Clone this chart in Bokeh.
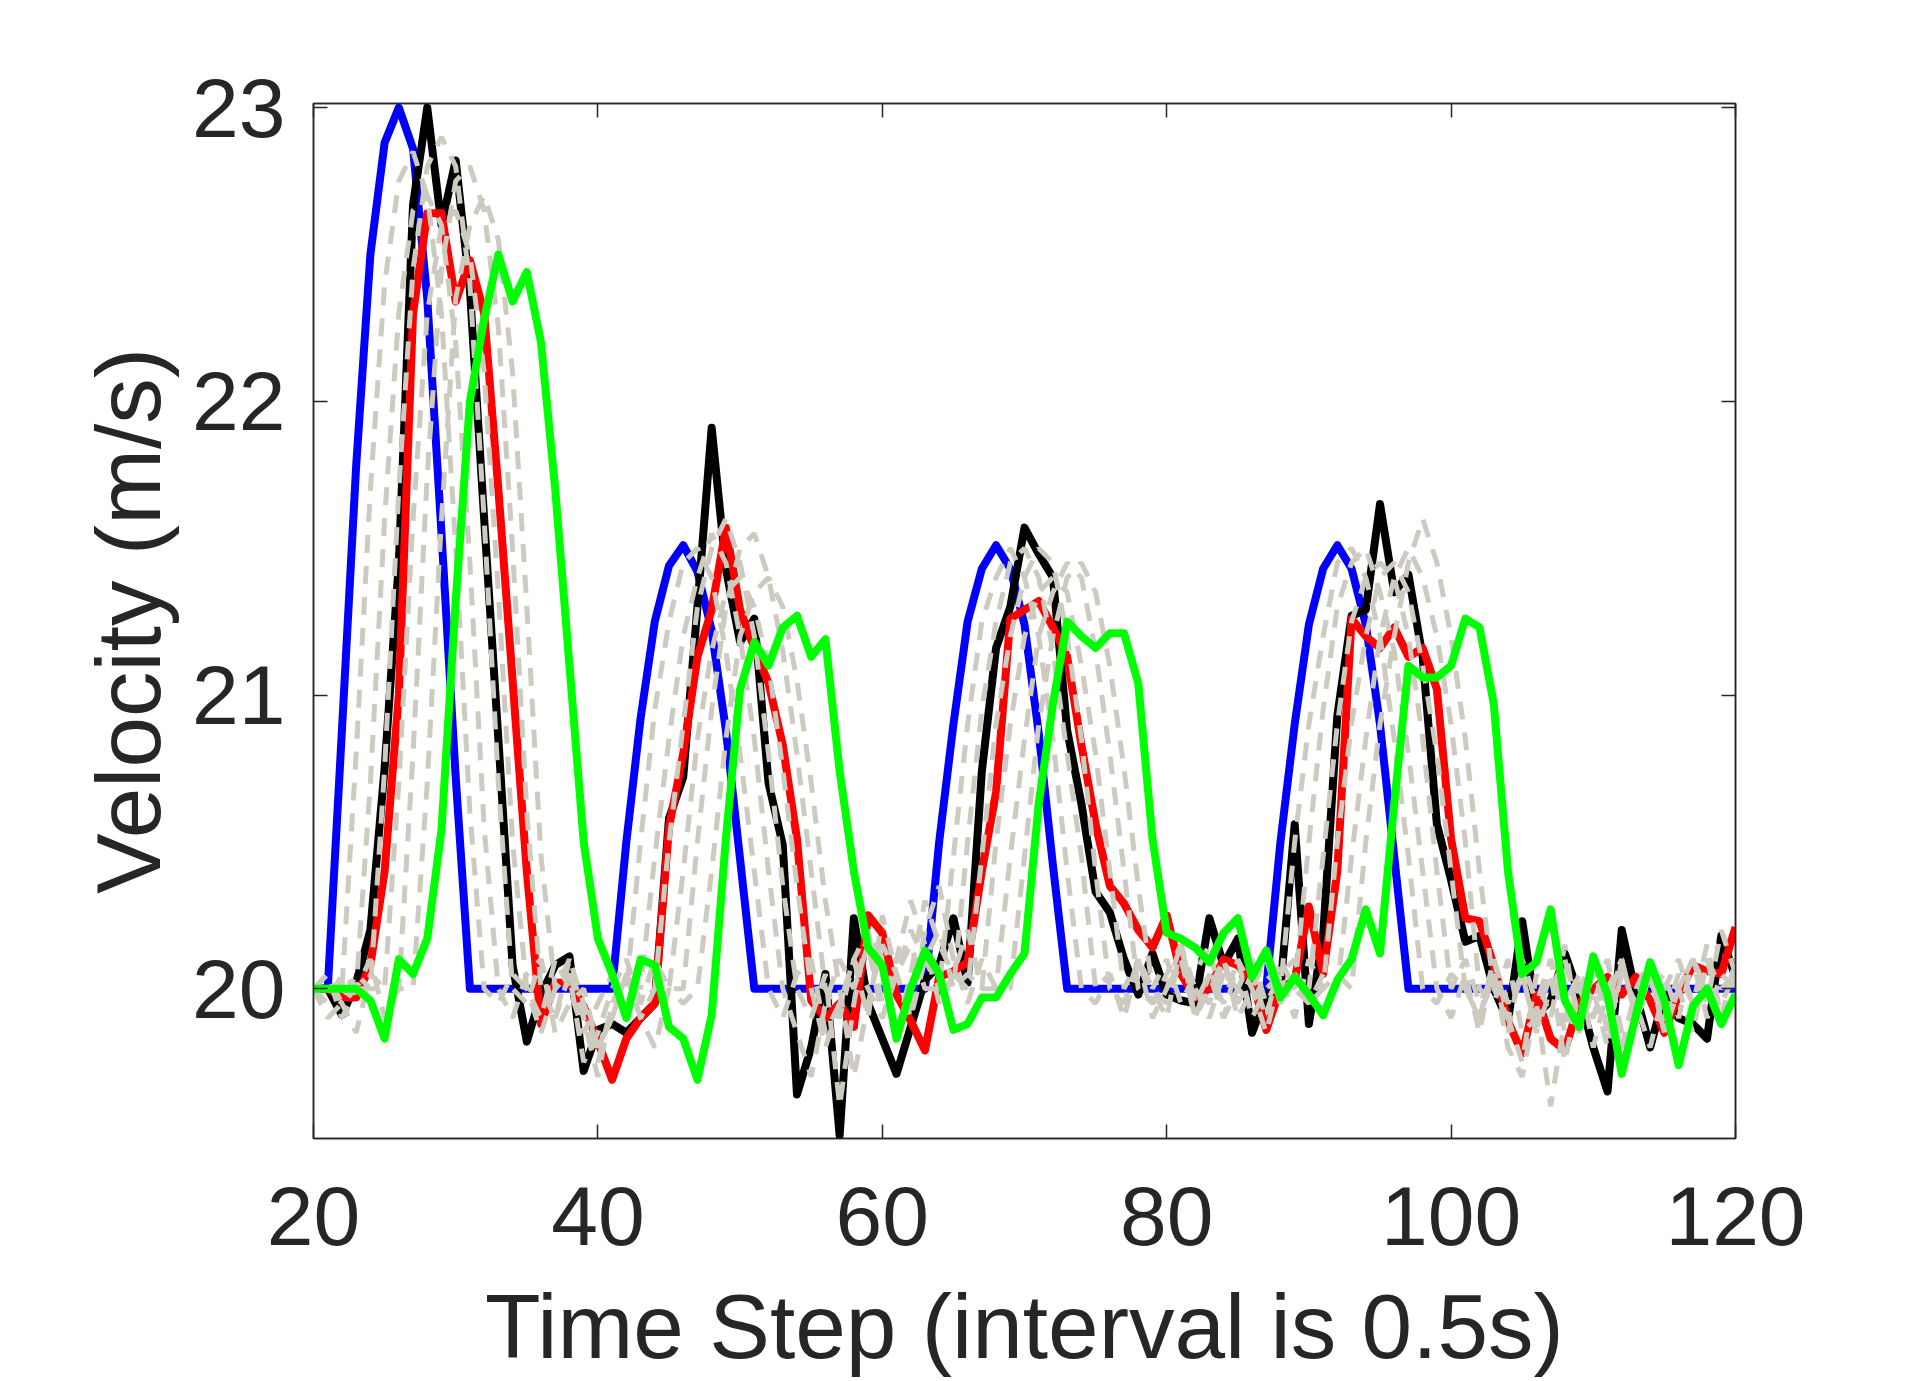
from bokeh.plotting import figure
from bokeh.models import LinearAxis, FixedTicker, Range1d
from bokeh.embed import file_html
from bokeh.resources import INLINE

# ---------------- data ----------------
time_step = list(range(20, 121))

blue = [20.0, 20.0, 20.88, 21.78, 22.5, 22.88, 23.0, 22.86, 22.35, 21.55, 20.72, 20.0,
        20.0, 20.0, 20.0, 20.0, 20.0, 20.0, 20.0, 20.0, 20.0,
        20.0, 20.5, 20.92, 21.25, 21.44, 21.51, 21.42, 21.22, 20.88, 20.44, 20.0,
        20.0, 20.0, 20.0, 20.0, 20.0, 20.0, 20.0, 20.0, 20.0, 20.0, 20.0,
        20.0, 20.5, 20.9, 21.25, 21.43, 21.51, 21.43, 21.24, 20.87, 20.42, 20.0,
        20.0, 20.0, 20.0, 20.0, 20.0, 20.0, 20.0, 20.0, 20.0, 20.0, 20.0, 20.0, 20.0,
        20.0, 20.5, 20.9, 21.24, 21.43, 21.51, 21.43, 21.24, 20.9, 20.45, 20.0,
        20.0, 20.0, 20.0, 20.0, 20.0, 20.0, 20.0, 20.0, 20.0, 20.0, 20.0, 20.0,
        20.0, 20.0, 20.0, 20.0, 20.0, 20.0, 20.0, 20.0, 20.0, 20.0, 20.0]

black = [20.0, 20.0, 19.91, 20.02, 20.2, 20.75, 21.45, 22.67, 23.0, 22.6,
         22.82, 22.38, 21.6, 20.85, 20.08, 19.82, 19.98, 20.08, 20.11, 19.72,
         19.86, 19.88, 19.85, 19.9, 19.95, 20.58, 20.72, 21.3, 21.91, 21.43,
         21.18, 21.26, 20.7, 20.49, 19.64, 19.8, 20.05, 19.5, 20.24, 19.95,
         19.83, 19.71, 19.87, 20.03, 20.08, 20.24, 20.02, 20.74, 21.16, 21.3,
         21.57, 21.48, 21.4, 20.88, 20.63, 20.33, 20.26, 20.1, 19.98, 20.12,
         19.98, 19.96, 19.95, 20.24, 20.08, 20.17, 19.85, 19.98, 20.0, 20.56,
         19.88, 20.18, 20.93, 21.27, 21.29, 21.65, 21.35, 21.41, 21.13, 20.56,
         20.37, 20.16, 20.18, 20.0, 19.89, 20.23, 19.91, 19.96, 20.12, 19.98,
         19.8, 19.65, 20.2, 19.98, 19.8, 19.98, 19.9, 19.88, 19.83, 20.18,
         20.04]

red = [20.0, 20.0, 19.97, 19.97, 20.08, 20.4, 21.0, 22.3, 22.64, 22.64,
       22.34, 22.48, 22.3, 21.7, 21.05, 20.4, 19.88, 20.02, 20.02, 19.94,
       19.82, 19.69, 19.83, 19.9, 19.95, 20.55, 20.8, 21.13, 21.29, 21.57,
       21.29, 21.16, 21.04, 20.83, 20.51, 19.96, 19.9, 19.95, 19.87, 20.25,
       20.19, 19.98, 19.89, 19.79, 20.04, 20.06, 20.09, 20.4, 20.67, 21.26,
       21.29, 21.32, 21.23, 21.13, 20.83, 20.56, 20.35, 20.29, 20.2, 20.14,
       20.25, 20.05, 19.97, 20.0, 20.1, 20.08, 20.03, 19.86, 20.0, 20.03,
       20.28, 20.05, 20.4, 21.26, 21.2, 21.16, 21.23, 21.13, 21.16, 21.02,
       20.51, 20.24, 20.23, 20.08, 19.89, 19.78, 19.98, 19.83, 19.79, 19.95,
       20.0, 20.04, 19.98, 20.04, 19.96, 19.85, 19.98, 20.08, 20.06, 20.05,
       20.21]

green = [20.0, 20.0, 20.0, 20.0, 19.96, 19.83, 20.1, 20.05, 20.17, 20.54,
         21.32, 22.0, 22.28, 22.5, 22.34, 22.44, 22.2, 21.7, 21.1, 20.5,
         20.17, 20.05, 19.9, 20.1, 20.08, 19.87, 19.83, 19.69, 19.91, 20.51,
         21.02, 21.18, 21.1, 21.23, 21.27, 21.13, 21.19, 20.74, 20.4, 20.14,
         20.08, 19.83, 20.0, 20.13, 20.05, 19.86, 19.88, 19.97, 19.97, 20.05,
         20.12, 20.63, 20.97, 21.25, 21.2, 21.16, 21.21, 21.21, 21.04, 20.51,
         20.19, 20.17, 20.14, 20.09, 20.19, 20.24, 20.04, 20.13, 19.97, 20.04,
         19.98, 19.91, 20.03, 20.1, 20.27, 20.12, 20.63, 21.1, 21.06, 21.06,
         21.1, 21.26, 21.23, 20.97, 20.4, 20.05, 20.09, 20.27, 19.96, 19.87,
         20.11, 19.98, 19.71, 19.91, 20.09, 19.96, 19.74, 19.94, 20.0, 19.88,
         19.98]

gray_1 = [20.0, 20.0,
          20.0, 20.8, 21.7, 22.4, 22.75, 22.85, 22.7, 22.3, 21.5, 20.6, 20.0,
          19.95, 20.05, 20.0, 19.9, 20.1, 20.0, 19.85, 19.95, 20.05,
          20.0, 20.5, 20.95, 21.25, 21.45, 21.5, 21.4, 21.15, 20.8, 20.4, 20.0,
          19.9, 20.05, 20.1, 19.85, 19.95, 20.1, 20.0, 19.9, 20.05, 20.15, 20.0,
          20.0, 20.45, 20.9, 21.25, 21.4, 21.5, 21.4, 21.2, 20.85, 20.4, 20.0,
          19.95, 20.05, 19.9, 20.1, 20.0, 19.95, 20.1, 20.0, 19.9, 20.05, 20.0, 19.95, 20.05,
          20.0, 20.5, 20.9, 21.2, 21.45, 21.5, 21.4, 21.2, 20.85, 20.45, 20.0,
          19.95, 20.05, 20.0, 19.9, 20.1, 19.95, 20.05, 19.85, 20.0, 20.1, 19.9,
          20.05, 19.95, 20.1, 19.9, 20.0, 20.05, 19.9, 20.1, 20.0, 19.95, 20.05]

gray_2 = [20.0, 19.95, 20.05,
          20.0, 20.7, 21.6, 22.3, 22.65, 22.7, 22.6, 22.2, 21.45, 20.55, 20.0,
          19.9, 20.05, 20.1, 19.85, 19.95, 20.0, 19.8, 19.9, 20.05,
          20.0, 20.45, 20.85, 21.2, 21.4, 21.55, 21.45, 21.2, 20.85, 20.4, 20.0,
          19.85, 19.7, 19.95, 20.1, 20.0, 20.15, 19.9, 20.05, 20.2, 20.1, 20.0,
          20.0, 20.5, 20.95, 21.25, 21.45, 21.5, 21.4, 21.15, 20.8, 20.45, 20.0,
          20.05, 19.9, 20.1, 19.95, 20.0, 20.1, 19.9, 20.05, 19.95, 20.1, 19.9, 20.0, 20.05,
          20.0, 20.5, 20.95, 21.3, 21.45, 21.5, 21.35, 21.15, 20.8, 20.4, 20.0,
          19.9, 20.05, 19.85, 20.1, 19.9, 19.75, 20.05, 19.9, 20.15, 19.85, 20.0,
          19.8, 20.1, 19.9, 20.05, 19.85, 20.0, 20.1, 19.9, 20.05, 20.0]

gray_3 = [20.0, 20.05, 19.9, 20.0,
          20.0, 20.75, 21.7, 22.45, 22.8, 22.9, 22.8, 22.4, 21.6, 20.7, 20.0,
          19.95, 20.1, 19.9, 20.05, 19.75, 19.85, 20.0, 20.1, 19.95,
          20.0, 20.5, 20.9, 21.3, 21.5, 21.6, 21.45, 21.2, 20.8, 20.35, 20.0,
          19.9, 20.05, 19.6, 19.95, 20.2, 20.1, 19.85, 20.05, 20.3, 20.15, 20.05,
          20.0, 20.45, 20.9, 21.2, 21.4, 21.5, 21.45, 21.2, 20.85, 20.4, 20.0,
          19.95, 20.1, 20.0, 19.9, 20.15, 20.0, 19.95, 20.1, 19.9, 20.0, 20.1, 19.95, 20.05,
          20.0, 20.45, 20.9, 21.25, 21.4, 21.45, 21.4, 21.2, 20.85, 20.4, 20.0,
          20.1, 19.95, 20.05, 19.8, 19.7, 19.95, 20.1, 19.85, 20.0, 19.9,
          20.1, 19.85, 19.95, 20.1, 19.9, 20.0, 19.85, 20.1, 20.0, 20.05]

gray_4 = [20.0, 19.9, 19.95, 20.05, 20.0,
          20.0, 20.7, 21.6, 22.3, 22.6, 22.65, 22.5, 22.1, 21.35, 20.5, 20.0,
          19.85, 20.0, 20.1, 19.9, 19.7, 19.95, 20.05, 19.9, 20.0,
          20.0, 20.4, 20.85, 21.15, 21.35, 21.4, 21.3, 21.1, 20.75, 20.35, 20.0,
          19.8, 19.95, 20.1, 19.9, 20.25, 20.05, 19.9, 20.1, 20.2, 20.0, 20.05,
          20.0, 20.5, 20.9, 21.2, 21.35, 21.4, 21.35, 21.1, 20.8, 20.4, 20.0,
          20.1, 19.9, 20.0, 20.15, 19.95, 20.05, 19.9, 20.1, 20.0, 19.85, 20.05, 20.1, 19.95,
          20.0, 20.5, 20.9, 21.2, 21.4, 21.45, 21.35, 21.1, 20.8, 20.4, 20.0,
          19.9, 20.05, 19.85, 20.1, 19.95, 19.6, 19.9, 20.05, 19.95, 20.1,
          19.8, 20.0, 20.1, 19.9, 20.05, 19.95, 20.1, 19.9, 20.05]

gray_5 = [20.0, 20.0, 19.95, 19.85, 20.05, 20.0,
          20.0, 20.8, 21.75, 22.45, 22.75, 22.8, 22.65, 22.25, 21.5, 20.6, 20.0,
          19.9, 20.1, 19.95, 19.8, 19.9, 20.05, 19.95, 20.1, 20.0,
          20.0, 20.5, 20.95, 21.3, 21.5, 21.55, 21.4, 21.15, 20.8, 20.4, 20.0,
          19.9, 20.1, 20.2, 19.95, 20.1, 20.3, 20.15, 19.95, 20.05, 20.2, 20.0,
          20.0, 20.45, 20.85, 21.2, 21.35, 21.45, 21.4, 21.15, 20.8, 20.4, 20.0,
          19.95, 20.05, 20.15, 19.9, 20.0, 20.1, 19.95, 20.05, 19.9, 20.1, 20.0, 19.95, 20.05,
          20.0, 20.45, 20.85, 21.2, 21.4, 21.5, 21.4, 21.2, 20.9, 20.5, 20.0,
          19.95, 20.1, 19.85, 19.9, 20.05, 19.75, 20.0, 20.1, 19.85,
          20.05, 19.95, 19.8, 20.0, 20.1, 19.95, 20.15, 19.9, 20.1]

gray_6 = [20.0, 20.05, 19.95, 20.0, 20.1, 19.9, 20.0,
          20.0, 20.7, 21.6, 22.35, 22.6, 22.7, 22.55, 22.1, 21.3, 20.45, 20.0,
          20.05, 19.9, 19.75, 19.95, 20.05, 19.9, 19.8, 20.0, 19.95,
          20.0, 20.4, 20.85, 21.2, 21.35, 21.4, 21.3, 21.05, 20.7, 20.3, 20.0,
          19.7, 19.95, 20.15, 20.05, 19.9, 20.2, 20.35, 20.1, 19.95, 20.1, 20.0,
          20.0, 20.45, 20.9, 21.2, 21.4, 21.45, 21.35, 21.1, 20.75, 20.35, 20.0,
          20.1, 19.95, 20.05, 20.15, 19.9, 20.0, 20.1, 19.95, 20.05, 19.9, 20.1, 20.0, 20.05,
          20.0, 20.5, 20.9, 21.2, 21.45, 21.6, 21.45, 21.2, 20.85, 20.4, 20.0,
          19.9, 20.05, 19.85, 20.1, 19.95, 20.05, 19.8, 20.0, 20.1,
          19.9, 20.05, 19.85, 20.0, 20.1, 19.95, 20.2, 20.05]

gray_series = [gray_1, gray_2, gray_3, gray_4, gray_5, gray_6]

x_ticks = [20, 40, 60, 80, 100, 120]
y_ticks = [20, 21, 22, 23]
x_label = "Time Step (interval is 0.5s)"
y_label = "Velocity (m/s)"

# ---------------- style ----------------
FONT = "Liberation Sans"
TXT = "#262626"
GRAY = "#cdcabf"

p = figure(width=1900, height=1381, output_backend="svg", toolbar_location=None,
           x_range=Range1d(20, 120), y_range=Range1d(19.49, 23.014),
           min_border_left=313, min_border_right=165,
           min_border_top=103, min_border_bottom=243)
p.background_fill_color = "white"
p.border_fill_color = "white"
p.xgrid.visible = False
p.ygrid.visible = False
p.outline_line_color = TXT
p.outline_line_width = 1.5


def style_axis(ax, show_labels, ticks):
    ax.axis_line_color = TXT
    ax.axis_line_width = 1.5
    ax.major_tick_line_color = TXT
    ax.major_tick_line_width = 1.5
    ax.major_tick_in = 14
    ax.major_tick_out = 0
    ax.minor_tick_line_color = None
    ax.major_label_text_font = FONT
    ax.major_label_text_color = TXT
    ax.major_label_text_font_size = "84px"
    if not show_labels:
        ax.major_label_overrides = {t: "" for t in ticks}
        ax.major_label_standoff = 0


xa = p.xaxis[0]
xa.ticker = FixedTicker(ticks=x_ticks)
style_axis(xa, True, x_ticks)
xa.major_label_standoff = 48
xa.axis_label = x_label
xa.axis_label_text_font = FONT
xa.axis_label_text_font_size = "91px"
xa.axis_label_text_font_style = "normal"
xa.axis_label_text_color = TXT
xa.axis_label_standoff = 28

ya = p.yaxis[0]
ya.ticker = FixedTicker(ticks=y_ticks)
style_axis(ya, True, y_ticks)
ya.major_label_standoff = 28
ya.axis_label = y_label
ya.axis_label_text_font = FONT
ya.axis_label_text_font_size = "91px"
ya.axis_label_text_font_style = "normal"
ya.axis_label_text_color = TXT
ya.axis_label_standoff = 10

top_ax = LinearAxis(ticker=FixedTicker(ticks=x_ticks))
style_axis(top_ax, False, x_ticks)
p.add_layout(top_ax, "above")
right_ax = LinearAxis(ticker=FixedTicker(ticks=y_ticks))
style_axis(right_ax, False, y_ticks)
p.add_layout(right_ax, "right")

LW = 8
p.line(time_step, blue, line_color="#0000ff", line_width=LW, line_join="round")
p.line(time_step, black, line_color="#000000", line_width=LW, line_join="round")
p.line(time_step, red, line_color="#ff0000", line_width=LW, line_join="round")
for g in gray_series:
    p.line(time_step, g, line_color=GRAY, line_width=5, line_dash="18 13")
p.line(time_step, green, line_color="#00ff00", line_width=LW, line_join="round")

open("out.html", "w").write(file_html(p, INLINE))
